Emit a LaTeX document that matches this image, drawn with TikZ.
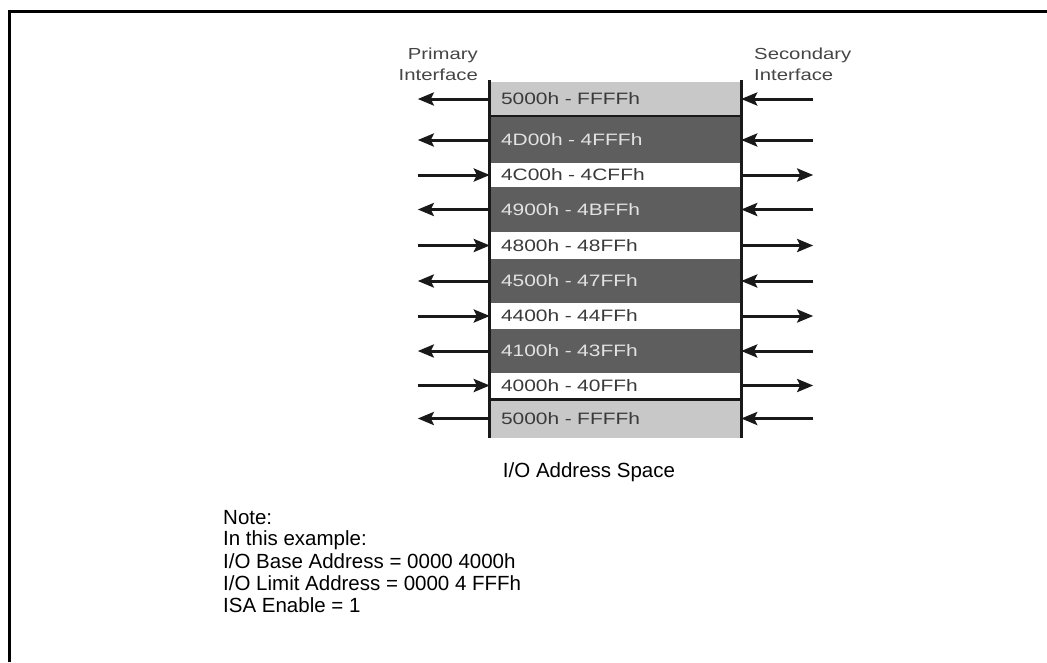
\documentclass[tikz,border=0pt]{standalone}
\usepackage{fontspec}
\setmainfont{Liberation Sans}
\newfontfamily\pixfont[FakeStretch=1.27]{Liberation Sans}
\usetikzlibrary{arrows.meta,calc}
\definecolor{lightrow}{HTML}{C8C8C8}
\definecolor{darkrow}{HTML}{5E5E5E}
\definecolor{darktext}{HTML}{3A3A3A}
\definecolor{lighttext}{HTML}{E2E2E2}
\definecolor{headtext}{HTML}{454545}
\tikzset{
  rowbox/.style={draw=none, minimum width=251pt, text width=229pt, inner xsep=11pt,
    inner ysep=0pt, align=left, font=\pixfont\fontsize{16.5}{18}\selectfont},
  lightbox/.style={rowbox, fill=lightrow, text=darktext},
  darkbox/.style={rowbox, fill=darkrow, text=lighttext},
  whitebox/.style={rowbox, fill=white, text=darktext},
  arr/.style={line width=3pt, draw=black!90, -{Stealth[length=16pt,width=13pt,inset=3pt]}},
  sideline/.style={line width=3pt, draw=black!90},
  sepline/.style={line width=2.5pt, draw=black!90},
  head/.style={text=headtext, inner sep=0pt,
    font=\pixfont\fontsize{16}{20.5}\selectfont},
  plain/.style={anchor=west, inner sep=0pt, font=\fontsize{20.5}{22}\selectfont},
}
\begin{document}
\begin{tikzpicture}[x=1pt,y=-1pt]
\useasboundingbox (0,0) rectangle (1047,662);
% frame
\draw[line width=3pt] (9,662) -- (9,11) -- (1047,11);
% rows
\node[lightbox, minimum height=34pt] (r1) at (615.5,99) {5000h - FFFFh};
\node[darkbox,  minimum height=46pt] (r2) at (615.5,140) {4D00h - 4FFFh};
\node[whitebox, minimum height=24pt] (r3) at (615.5,175) {4C00h - 4CFFh};
\node[darkbox,  minimum height=45pt] (r4) at (615.5,209.5) {4900h - 4BFFh};
\node[whitebox, minimum height=27pt] (r5) at (615.5,245.5) {4800h - 48FFh};
\node[darkbox,  minimum height=44pt] (r6) at (615.5,281) {4500h - 47FFh};
\node[whitebox, minimum height=26pt] (r7) at (615.5,316) {4400h - 44FFh};
\node[darkbox,  minimum height=44pt] (r8) at (615.5,351) {4100h - 43FFh};
\node[whitebox, minimum height=25pt] (r9) at (615.5,385.5) {4000h - 40FFh};
\node[lightbox, minimum height=38pt] (r10) at (615.5,418.5) {5000h - FFFFh};
% separators
\draw[sepline] (r1.south west) -- (r1.south east);
\draw[sepline] (r10.north west) -- (r10.north east);
% sides
\draw[sideline] ($(r1.north west)+(0,-2)$) -- (r10.south west);
\draw[sideline] ($(r1.north east)+(0,-2)$) -- (r10.south east);
% arrows
\foreach \r/\d in {r1/L,r2/L,r3/R,r4/L,r5/R,r6/L,r7/R,r8/L,r9/R,r10/L}{
  \coordinate (\r pl) at ($(\r.west)+(-72,0)$);
  \coordinate (\r sr) at ($(\r.east)+(72,0)$);
  \if\d L
    \draw[arr] (\r.west) -- (\r pl);
    \draw[arr] (\r sr) -- (\r.east);
  \else
    \draw[arr] (\r pl) -- (\r.west);
    \draw[arr] (\r.east) -- (\r sr);
  \fi
}
% headings
\node[head, align=right, anchor=base east] (prim) at (478,80) {Primary\\Interface};
\node[head, align=left, anchor=base west] (sec) at (754,80) {Secondary\\Interface};
% caption and note
\node[plain, anchor=center] (cap) at (589,472) {I/O Address Space};
\node[plain] (n1) at (223,518) {Note:};
\node[plain] (n2) at (223,540) {In this example:};
\node[plain] (n3) at (223,561.5) {I/O Base Address = 0000 4000h};
\node[plain] (n4) at (223,583) {I/O Limit Address = 0000 4 FFFh};
\node[plain] (n5) at (223,605) {ISA Enable = 1};
\end{tikzpicture}
\end{document}
